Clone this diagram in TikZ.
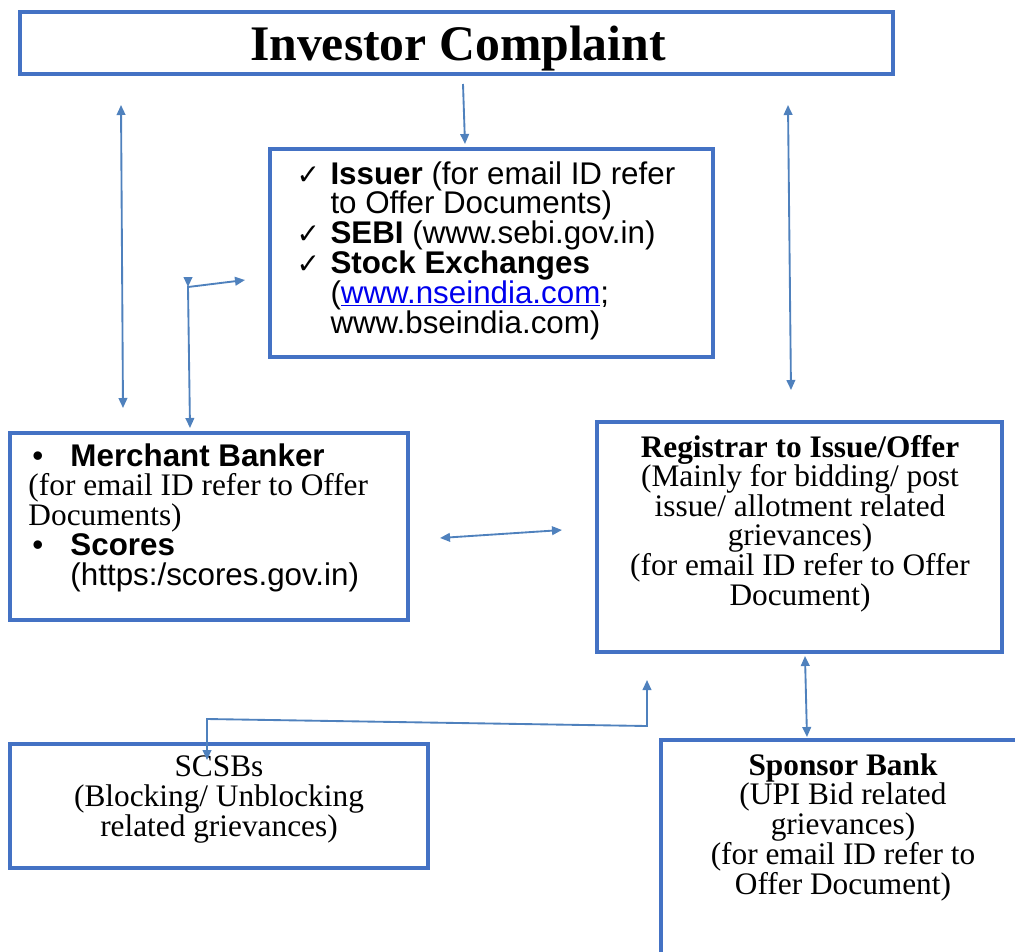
\documentclass[tikz,border=0pt]{standalone}
\usepackage{fontspec}
\setmainfont{Liberation Serif}
\setsansfont{Liberation Sans}
\newfontfamily\dejavu{DejaVu Sans}
\usetikzlibrary{arrows.meta}
\definecolor{linkblue}{RGB}{0,0,238}
\newcommand{\chk}{\makebox[25.5pt][l]{\fontsize{21}{21}\dejavu ✓}}
\newcommand{\ind}{\makebox[25.5pt]{}}
\newcommand{\bul}{\makebox[31.5pt][l]{\hspace{3pt}\textbullet}}
\tikzset{every picture/.style={line width=0.75pt}}

\begin{document}
\begin{tikzpicture}[x=0.75pt,y=0.75pt,yscale=-1,xscale=1,
  box/.style={draw={rgb, 255:red, 68; green, 114; blue, 196 },line width=2.6pt,inner sep=0pt},
  conn/.style={draw={rgb, 255:red, 79; green, 129; blue, 189 },line width=1.4pt},
  tip/.style={-{Triangle[length=7.5pt,width=6.5pt]}},
  duo/.style={{Triangle[length=7.5pt,width=6.5pt]}-{Triangle[length=7.5pt,width=6.5pt]}},
  txt/.style={anchor=base,inner sep=0pt,align=center,font=\fontsize{23.5}{22.2}\selectfont}]
\useasboundingbox (0,0) rectangle (1015,951);

%Shape: Rectangle
\node [box,minimum width=654.75pt,minimum height=46.5pt] (cmp) at (456.5,43) {};
%Shape: Rectangle
\node [box,minimum width=332.25pt,minimum height=156pt] (iss) at (491.5,253) {};
%Shape: Rectangle
\node [box,minimum width=298.5pt,minimum height=140.25pt] (mb) at (209,526.5) {};
%Shape: Rectangle
\node [box,minimum width=303.75pt,minimum height=172.5pt] (rg) at (799.5,537) {};
%Shape: Rectangle
\node [box,minimum width=313.5pt,minimum height=93pt] (sc) at (219,806) {};
%Shape: Rectangle
\node [box,minimum width=276.75pt,minimum height=176.25pt] (sp) at (845.5,857.5) {};

% Text Node
\node [txt,font=\fontsize{37.3}{37.3}\selectfont\bfseries] (cmpt) at (458,60) {Investor Complaint};
% Text Node
\node [txt,anchor=base west,align=left,font=\fontsize{23.5}{22.35}\selectfont\sffamily] (isst) at (296,333)
  {\chk\textbf{Issuer} (for email ID refer\\
   \ind to Offer Documents)\\
   \chk\textbf{SEBI} (www.sebi.gov.in)\\
   \chk\textbf{Stock Exchanges}\\
   \ind(\textcolor{linkblue}{\underline{www.nseindia.com}};\\
   \ind www.bseindia.com)};
% Text Node
\node [txt,anchor=base west,align=left,font=\fontsize{23.5}{22.3}\selectfont] (mbt) at (28,585)
  {\textsf{\bul\bfseries Merchant Banker}\\
   (for email ID refer to Offer\\
   Documents)\\
   \textsf{\bul\bfseries Scores}\\
   \textsf{\makebox[31.5pt]{}(https:/scores.gov.in)}};
% Text Node
\node [txt] (rgt) at (800,605)
  {\textbf{Registrar to Issue/Offer}\\
   (Mainly for bidding/ post\\
   issue/ allotment related\\
   grievances)\\
   (for email ID refer to Offer\\
   Document)};
% Text Node
\node [txt] (sct) at (219,836)
  {SCSBs\\
   (Blocking/ Unblocking\\
   related grievances)};
% Text Node
\node [txt,font=\fontsize{23.5}{22.3}\selectfont] (spt) at (843,894)
  {\textbf{Sponsor Bank}\\
   (UPI Bid related\\
   grievances)\\
   (for email ID refer to\\
   Offer Document)};

% Arrow ends
\coordinate (cmp-out) at (463,84);
\coordinate (iss-top) at (465,144);
\coordinate (l-up) at (121,105);
\coordinate (l-dn) at (123,408);
\coordinate (r-up) at (788,105);
\coordinate (r-dn) at (791,390);
\coordinate (iss-l) at (245,280);
\coordinate (elb) at (188,287);
\coordinate (elbtop) at (188,280);
\coordinate (mb-top) at (190,428);
\coordinate (mb-r) at (440,538);
\coordinate (rg-l) at (562,530);
\coordinate (rg-bot) at (805,656);
\coordinate (sp-top) at (807,737);
\coordinate (rg-in) at (647,680);
\coordinate (sc-r) at (647,726);
\coordinate (sc-l) at (207,719);
\coordinate (sc-top) at (207,760);

%Straight Lines
\draw [conn,tip] (cmp-out) -- (iss-top);
\draw [conn,duo] (l-up) -- (l-dn);
\draw [conn,duo] (r-up) -- (r-dn);
\draw [conn,duo] (mb-top) -- (elb) -- (iss-l);
\draw [conn,tip] (elbtop) -- (elb);
\draw [conn,duo] (mb-r) -- (rg-l);
\draw [conn,duo] (rg-bot) -- (sp-top);
\draw [conn,duo] (rg-in) -- (sc-r) -- (sc-l) -- (sc-top);

\end{tikzpicture}
\end{document}
